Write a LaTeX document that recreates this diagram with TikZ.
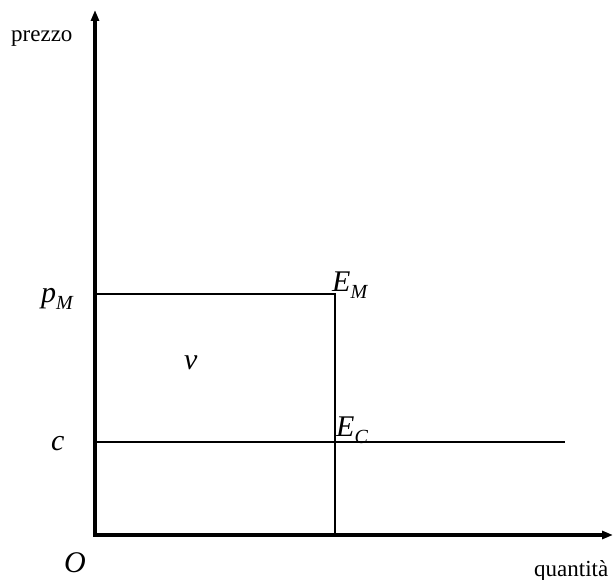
\documentclass[tikz,border=0pt]{standalone}
\usepackage{fontspec}
\setmainfont{Liberation Serif}
\usetikzlibrary{arrows.meta}
\newcommand{\mysub}[1]{\raisebox{-0.22em}{\fontsize{20}{20}\selectfont\itshape #1}}
\tikzset{
  axis/.style={line width=3.2pt, line join=miter, {Triangle[length=11pt,width=8pt]}-{Triangle[length=11pt,width=8pt]}},
  guide/.style={line width=1.5pt},
  lbl/.style={inner sep=0pt, font=\fontsize{23}{26}\selectfont},
  mlbl/.style={inner sep=0pt, font=\fontsize{30}{33}\selectfont\itshape},
}
\begin{document}
\begin{tikzpicture}[x=1pt,y=-1pt]
\useasboundingbox (0,0) rectangle (614,580);
\coordinate (ytop) at (95,10);
\coordinate (orig) at (95,535);
\coordinate (xend) at (613,535);
\coordinate (pm) at (95,294);
\coordinate (em) at (335,294);
\coordinate (emb) at (335,535);
\coordinate (cc) at (95,442);
\coordinate (cend) at (565,442);
\draw[axis] (ytop) -- (orig) -- (xend);
\draw[guide] (pm) -- (em) -- (emb);
\draw[guide] (cc) -- (cend);
\node[lbl, anchor=base west] (prezzo) at (11,42) {prezzo};
\node[lbl, anchor=base west] (quant) at (534,576) {quantità};
\node[mlbl, anchor=base west] (pM) at (41,303) {p\mysub{M}};
\node[mlbl, anchor=base west] (EM) at (332,292) {E\mysub{M}};
\node[mlbl, anchor=base west] (EC) at (336,437) {E\mysub{C}};
\node[mlbl, anchor=base west] (c) at (51,450) {c};
\node[mlbl, anchor=base west] (O) at (64,572) {O};
\node[mlbl, anchor=base west] (v) at (184,370) {v};
\end{tikzpicture}
\end{document}
